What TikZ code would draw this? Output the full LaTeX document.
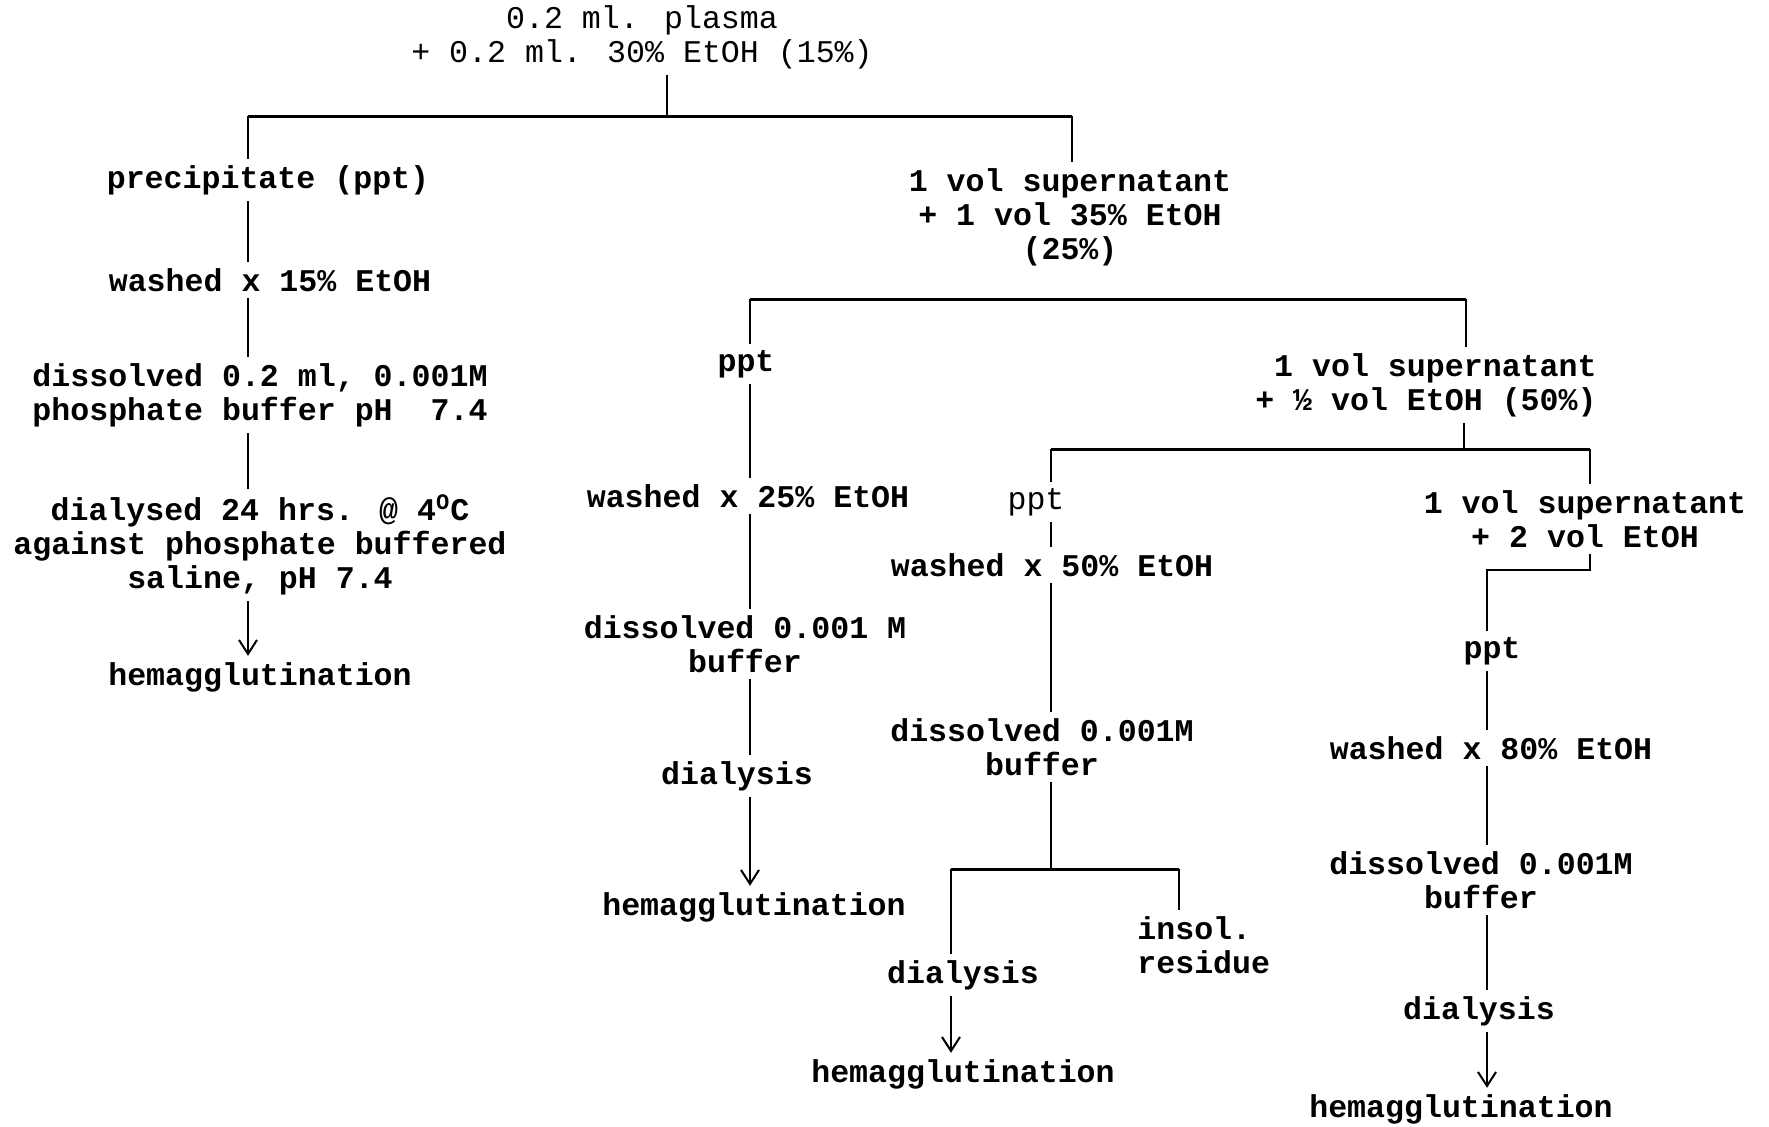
\documentclass[tikz,border=0pt]{standalone}
\usepackage{fontspec}
\newfontfamily\tw{Liberation Mono}
\usetikzlibrary{arrows.meta}
\begin{document}
\begin{tikzpicture}[x=0.5pt,y=-0.5pt,
  txt/.style={font=\tw\fontsize{15.8}{17}\selectfont, inner sep=3pt, align=center},
  bd/.style={txt, font=\tw\bfseries\fontsize{15.8}{17}\selectfont},
  conn/.style={line width=1.2pt},
  bar/.style={line width=1.5pt},
  arr/.style={conn,-{Straight Barb[length=7pt,width=9pt,line width=1pt]}}]
\fill[white] (0,0) rectangle (1769,1126);
\useasboundingbox (0,0) rectangle (1769,1126);

% nodes
\node[txt] (T) at (642,37) {0.2 ml. plasma\\+ 0.2 ml. 30\% EtOH (15\%)};
\node[bd] (P1) at (268,180) {precipitate (ppt)};
\node[bd] (W1) at (270,280) {washed x 15\% EtOH};
\node[bd] (D1) at (260,395) {dissolved 0.2 ml, 0.001M\\phosphate buffer pH\ \ 7.4};
\node[bd] (L1) at (260,545) {dialysed 24 hrs. @ 4\textsuperscript{O}C\\against phosphate buffered\\saline, pH 7.4};
\node[bd] (H1) at (260,677) {hemagglutination};
\node[bd] (S1) at (1070,217) {1 vol supernatant\\+ 1 vol 35\% EtOH\\(25\%)};
\node[bd] (P2) at (746,364) {ppt};
\node[bd, align=right, anchor=east] (S2) at (1603,385) {1 vol supernatant\\+ ½ vol EtOH (50\%)};
\node[bd] (W2) at (748,496) {washed x 25\% EtOH};
\node[bd] (D2) at (745,644) {dissolved 0.001 M\\buffer};
\node[bd] (Y2) at (737,776) {dialysis};
\node[bd] (H2) at (754,907) {hemagglutination};
\node[txt] (P3) at (1036,502) {ppt};
\node[bd] (S3) at (1585,519) {1 vol supernatant\\+ 2 vol EtOH};
\node[bd] (W3) at (1052,565) {washed x 50\% EtOH};
\node[bd] (D3) at (1042,747) {dissolved 0.001M\\buffer};
\node[bd] (Y3) at (963,975) {dialysis};
\node[bd, align=left, anchor=west] (I3) at (1131,945) {insol.\\residue};
\node[bd] (H3) at (963,1074) {hemagglutination};
\node[bd] (P4) at (1492,651) {ppt};
\node[bd] (W4) at (1491,748) {washed x 80\% EtOH};
\node[bd] (D4) at (1481,880) {dissolved 0.001M\\buffer};
\node[bd] (Y4) at (1479,1011) {dialysis};
\node[bd] (H4) at (1461,1109) {hemagglutination};

% junction coordinates
\coordinate (c0) at (667,116);
\coordinate (b1L) at (248,116);
\coordinate (b1R) at (1072,116);
\coordinate (b2L) at (750,299);
\coordinate (b2R) at (1466,299);
\coordinate (c2) at (1464,449);
\coordinate (b3L) at (1051,449);
\coordinate (b3R) at (1590,449);
\coordinate (b4C) at (1051,869);
\coordinate (b4L) at (951,869);
\coordinate (b4R) at (1179,869);
\coordinate (k1) at (1590,570);
\coordinate (k2) at (1487,570);

% first split
\draw[conn] (T.south -| c0) -- (c0);
\draw[bar] (b1L) -- (b1R);
\draw[conn] (b1L) -- (P1.north -| b1L);
\draw[conn] (b1R) -- (S1.north -| b1R);
\draw[conn] (P1.south -| b1L) -- (W1.north -| b1L);
\draw[conn] (W1.south -| b1L) -- (D1.north -| b1L);
\draw[conn] (D1.south -| b1L) -- (L1.north -| b1L);
\draw[arr] (L1.south -| b1L) -- (H1.north -| b1L);

% second split
\draw[bar] (b2L) -- (b2R);
\draw[conn] (b2L) -- (P2.north -| b2L);
\draw[conn] (b2R) -- (S2.north -| b2R);
\draw[conn] (P2.south -| b2L) -- (W2.north -| b2L);
\draw[conn] (W2.south -| b2L) -- (D2.north -| b2L);
\draw[conn] (D2.south -| b2L) -- (Y2.north -| b2L);
\draw[arr] (Y2.south -| b2L) -- (H2.north -| b2L);

% third split
\draw[conn] (S2.south -| c2) -- (c2);
\draw[bar] (b3L) -- (b3R);
\draw[conn] (b3L) -- (P3.north -| b3L);
\draw[conn] (b3R) -- (S3.north -| b3R);
\draw[conn] (P3.south -| b3L) -- (W3.north -| b3L);
\draw[conn] (W3.south -| b3L) -- (D3.north -| b3L);
\draw[conn] (D3.south -| b4C) -- (b4C);
\draw[bar] (b4L) -- (b4R);
\draw[conn] (b4L) -- (Y3.north -| b4L);
\draw[conn] (b4R) -- (I3.north -| b4R);
\draw[arr] (Y3.south -| b4L) -- (H3.north -| b4L);

% last branch
\draw[conn] (S3.south -| k1) -- (k1) -- (k2) -- (P4.north -| k2);
\draw[conn] (P4.south -| k2) -- (W4.north -| k2);
\draw[conn] (W4.south -| k2) -- (D4.north -| k2);
\draw[conn] (D4.south -| k2) -- (Y4.north -| k2);
\draw[arr] (Y4.south -| k2) -- (H4.north -| k2);
\end{tikzpicture}
\end{document}
